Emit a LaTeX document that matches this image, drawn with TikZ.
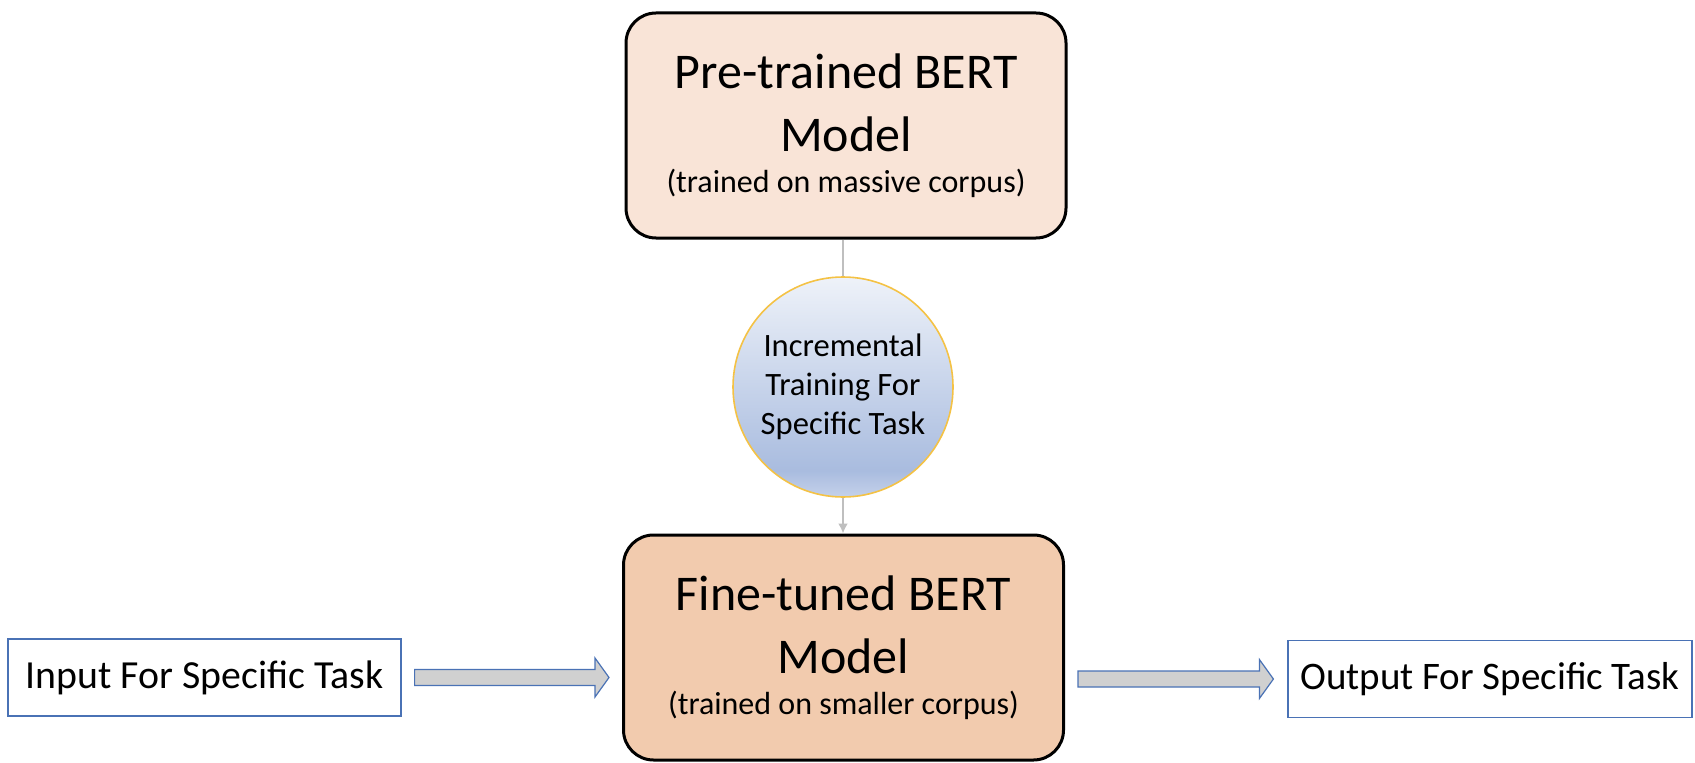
\documentclass[tikz,border=0pt]{standalone}
\usepackage{fontspec}
\setmainfont{Carlito}
\usetikzlibrary{arrows.meta,calc}
\definecolor{ink}{HTML}{000000}
\definecolor{peach}{HTML}{F9E4D7}
\definecolor{apricot}{HTML}{F2CBAE}
\definecolor{feedgray}{HTML}{BFBFBF}
\definecolor{frame}{HTML}{4A72B5}
\definecolor{shaftgray}{HTML}{D0D0D0}
\definecolor{gold}{HTML}{F4C245}
\definecolor{circtop}{HTML}{EEF2F9}
\definecolor{circmid}{HTML}{A9BCDF}
\definecolor{circbot}{HTML}{C4D1EA}
\pgfdeclareverticalshading{incshade}{100bp}{color(0bp)=(circbot); color(25bp)=(circbot);
  color(31bp)=(circmid); color(75bp)=(circtop); color(100bp)=(circtop)}

\begin{document}
\begin{tikzpicture}[x=50pt,y=50pt,>=Latex,text=ink,
  model/.style={draw=ink,line width=1.5pt,rounded corners=15pt,
    minimum width=220pt,minimum height=112.5pt,inner sep=0pt,align=center,
    font=\fontsize{25}{31.5}\selectfont},
  taskbox/.style={draw=frame,line width=0.6pt,fill=white,minimum height=38.5pt,
    inner sep=0pt,font=\fontsize{19.5}{23}\selectfont},
  feed/.style={draw=feedgray,line width=1pt},
  fat/.style={draw=frame,fill=shaftgray,line width=0.6pt,line join=miter,
    to path={($(\tikztostart)+(0,4pt)$) -- ($(\tikztotarget)+(-7pt,4pt)$)
      -- ($(\tikztotarget)+(-7pt,9.75pt)$) -- (\tikztotarget)
      -- ($(\tikztotarget)+(-7pt,-9.75pt)$) -- ($(\tikztotarget)+(-7pt,-4pt)$)
      -- ($(\tikztostart)+(0,-4pt)$) -- cycle}}]
  \useasboundingbox (0,0) rectangle (16.95,7.62);
  % models
  \node[model,fill=peach] (pre) at (8.46,6.365)
    {Pre-trained BERT\\Model\\[-11pt]{\fontsize{16}{20}\selectfont (trained on massive corpus)}};
  \node[model,fill=apricot] (fine) at (8.435,1.145)
    {Fine-tuned BERT\\Model\\[-11pt]{\fontsize{16}{20}\selectfont (trained on smaller corpus)}};
  \node[circle,draw=gold,line width=0.8pt,shade,shading=incshade,minimum size=110pt,
    inner sep=0pt,align=center,font=\fontsize{16.3}{19.6}\selectfont] (inc) at (8.43,3.75)
    {Incremental\\Training For\\Specific Task};
  % task in and out
  \node[taskbox,minimum width=196.5pt,font=\fontsize{19.9}{23}\selectfont] (in) at (2.045,0.845)
    {Input For Specific Task};
  \node[taskbox,minimum width=202pt] (out) at (14.9,0.83) {Output For Specific Task};
  \draw[feed] (inc |- pre.south) -- (inc.north);
  \draw[feed,-{Latex[length=5pt,width=5pt]}] (inc.south) -- (inc |- fine.north);
  \coordinate (inR) at ($(in.east)+(6.5pt,0)$);
  \coordinate (fineL) at ($(in.east -| fine.west)+(-6.5pt,0)$);
  \coordinate (fineR) at ($(out.west -| fine.east)+(6.5pt,0)$);
  \coordinate (outL) at ($(out.west)+(-7pt,0)$);
  \draw[fat] (inR) to (fineL);
  \draw[fat] (fineR) to (outL);
\end{tikzpicture}
\end{document}
